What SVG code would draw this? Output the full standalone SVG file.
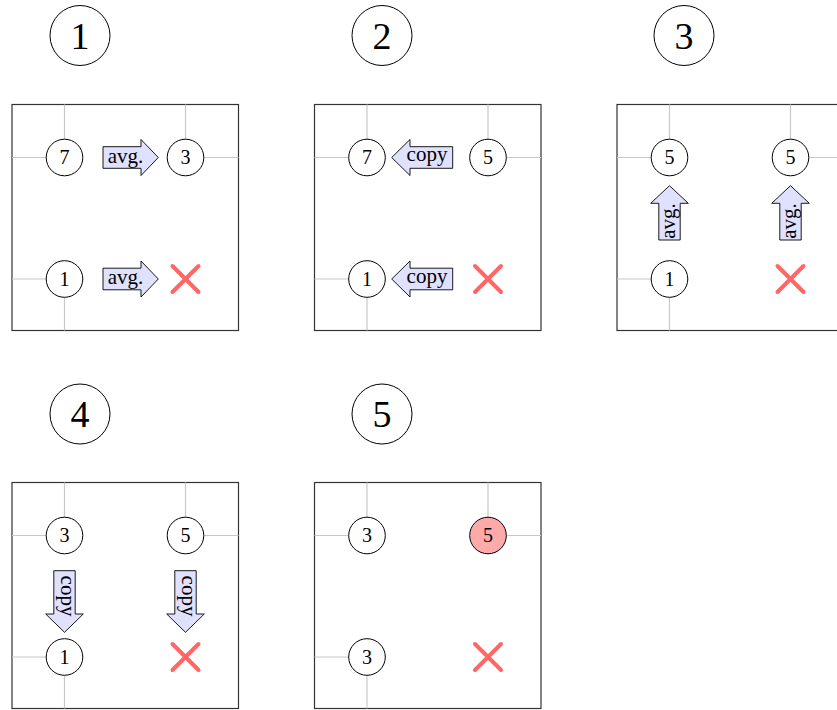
<svg xmlns="http://www.w3.org/2000/svg" width="837" height="710" viewBox="0 0 837 710">
<style>
.box{fill:none;stroke:#333;stroke-width:1.2}
.grid{fill:none;stroke:#c8c8c8;stroke-width:1.2}
.node{fill:#fff;stroke:#000;stroke-width:1}
.hot{fill:#ffaaaa;stroke:#000;stroke-width:1}
.num{font-family:"Liberation Serif",serif;font-size:20px;text-anchor:middle;fill:#000}
.big{fill:#fff;stroke:#000;stroke-width:1}
.bignum{font-family:"Liberation Serif",serif;font-size:38px;text-anchor:middle;fill:#000}
.arr{fill:#e0e0ff;stroke:#000;stroke-width:0.9;stroke-linejoin:miter}
.lab{font-family:"Liberation Serif",serif;font-size:21px;text-anchor:middle;fill:#000}
.x{fill:none;stroke:#ff6666;stroke-width:4;stroke-linecap:round}
</style>
<defs>
<g id="gridlines">
<rect class="box" x="0" y="0" width="226.5" height="226"/>
<path class="grid" d="M52.5,0V53M0,53H52.5M173.5,0V53M173.5,53H226.5M0,174.5H52.5M52.5,174.5V226"/>
</g>
<path id="xmark" class="x" d="M-13,-13L13,13M13,-13L-13,13"/>
</defs>

<g id="step-labels">
<g id="label1"><circle class="big" cx="80" cy="35.5" r="30"/><text class="bignum" x="80" y="48.5">1</text></g>
<g id="label2"><circle class="big" cx="382" cy="35.5" r="30"/><text class="bignum" x="382" y="48.5">2</text></g>
<g id="label3"><circle class="big" cx="684" cy="35.5" r="30"/><text class="bignum" x="684" y="48.5">3</text></g>
<g id="label4"><circle class="big" cx="80" cy="414" r="30"/><text class="bignum" x="80" y="427">4</text></g>
<g id="label5"><circle class="big" cx="382" cy="414" r="30"/><text class="bignum" x="382" y="427">5</text></g>
</g>

<g id="panel1" transform="translate(12,104.5)">
<use href="#gridlines"/>
<g id="p1-n1"><circle class="node" cx="52.5" cy="53" r="18.3"/><text class="num" x="52.5" y="59.8">7</text></g>
<g id="p1-n2"><circle class="node" cx="173.5" cy="53" r="18.3"/><text class="num" x="173.5" y="59.8">3</text></g>
<g id="p1-n3"><circle class="node" cx="52.5" cy="174.5" r="18.3"/><text class="num" x="52.5" y="181.3">1</text></g>
<g id="p1-n4"><use href="#xmark" x="173.5" y="174.5"/></g>
</g>

<g id="panel2" transform="translate(314.5,104.5)">
<use href="#gridlines"/>
<g id="p2-n1"><circle class="node" cx="52.5" cy="53" r="18.3"/><text class="num" x="52.5" y="59.8">7</text></g>
<g id="p2-n2"><circle class="node" cx="173.5" cy="53" r="18.3"/><text class="num" x="173.5" y="59.8">5</text></g>
<g id="p2-n3"><circle class="node" cx="52.5" cy="174.5" r="18.3"/><text class="num" x="52.5" y="181.3">1</text></g>
<g id="p2-n4"><use href="#xmark" x="173.5" y="174.5"/></g>
</g>

<g id="panel3" transform="translate(617,104.5)">
<use href="#gridlines"/>
<g id="p3-n1"><circle class="node" cx="52.5" cy="53" r="18.3"/><text class="num" x="52.5" y="59.8">5</text></g>
<g id="p3-n2"><circle class="node" cx="173.5" cy="53" r="18.3"/><text class="num" x="173.5" y="59.8">5</text></g>
<g id="p3-n3"><circle class="node" cx="52.5" cy="174.5" r="18.3"/><text class="num" x="52.5" y="181.3">1</text></g>
<g id="p3-n4"><use href="#xmark" x="173.5" y="174.5"/></g>
</g>

<g id="panel4" transform="translate(12,482.5)">
<use href="#gridlines"/>
<g id="p4-n1"><circle class="node" cx="52.5" cy="53" r="18.3"/><text class="num" x="52.5" y="59.8">3</text></g>
<g id="p4-n2"><circle class="node" cx="173.5" cy="53" r="18.3"/><text class="num" x="173.5" y="59.8">5</text></g>
<g id="p4-n3"><circle class="node" cx="52.5" cy="174.5" r="18.3"/><text class="num" x="52.5" y="181.3">1</text></g>
<g id="p4-n4"><use href="#xmark" x="173.5" y="174.5"/></g>
</g>

<g id="panel5" transform="translate(314.5,482.5)">
<use href="#gridlines"/>
<g id="p5-n1"><circle class="node" cx="52.5" cy="53" r="18.3"/><text class="num" x="52.5" y="59.8">3</text></g>
<g id="p5-n2"><circle class="hot" cx="173.5" cy="53" r="18.3"/><text class="num" x="173.5" y="59.8">5</text></g>
<g id="p5-n3"><circle class="node" cx="52.5" cy="174.5" r="18.3"/><text class="num" x="52.5" y="181.3">3</text></g>
<g id="p5-n4"><use href="#xmark" x="173.5" y="174.5"/></g>
</g>

<g id="connectors">
<g transform="translate(12,104.5)">
<path class="arr" d="M91,42.2H129V35L146.3,53L129,71V63.8H91Z"/>
<text class="lab" x="113.5" y="58">avg.</text>
<path class="arr" d="M91,163.7H129V156.5L146.3,174.5L129,192.5V185.3H91Z"/>
<text class="lab" x="113.5" y="179.5">avg.</text>
</g>
<g transform="translate(314.5,104.5)">
<path class="arr" d="M77.2,53L95.5,35V42.2H138.2V63.8H95.5V71Z"/>
<text class="lab" x="112.5" y="56.5">copy</text>
<path class="arr" d="M77.2,174.5L95.5,156.5V163.7H138.2V185.3H95.5V192.5Z"/>
<text class="lab" x="112.5" y="178">copy</text>
</g>
<g transform="translate(617,104.5)">
<path class="arr" d="M52.5,81.2L71.3,98.8H63.2V135.5H41.8V98.8H33.7Z"/>
<text class="lab" transform="translate(57.5,116.5) rotate(-90)">avg.</text>
<path class="arr" d="M173.5,81.2L192.3,98.8H184.2V135.5H162.8V98.8H154.7Z"/>
<text class="lab" transform="translate(178.5,116.5) rotate(-90)">avg.</text>
</g>
<g transform="translate(12,482.5)">
<path class="arr" d="M41.8,88.2H63.2V131.5H71.3L52.5,149.8L33.7,131.5H41.8Z"/>
<text class="lab" transform="translate(49,113.5) rotate(90)">copy</text>
<path class="arr" d="M162.8,88.2H184.2V131.5H192.3L173.5,149.8L154.7,131.5H162.8Z"/>
<text class="lab" transform="translate(170,113.5) rotate(90)">copy</text>
</g>
</g>
</svg>
